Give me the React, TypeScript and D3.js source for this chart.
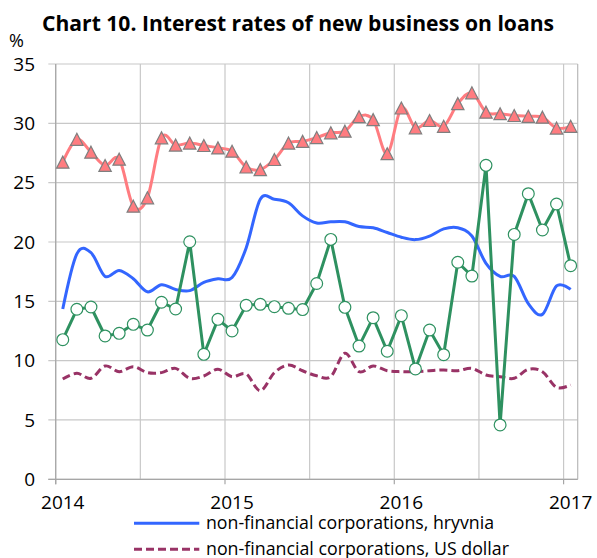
import React from "react";
import * as d3 from "d3";

const months = [
  "2014-01","2014-02","2014-03","2014-04","2014-05","2014-06","2014-07","2014-08","2014-09","2014-10","2014-11","2014-12",
  "2015-01","2015-02","2015-03","2015-04","2015-05","2015-06","2015-07","2015-08","2015-09","2015-10","2015-11","2015-12",
  "2016-01","2016-02","2016-03","2016-04","2016-05","2016-06","2016-07","2016-08","2016-09","2016-10","2016-11","2016-12",
  "2017-01",
];

const gridMonths = ["2014-01", "2014-07", "2015-01", "2015-07", "2016-01", "2016-07", "2017-01"];
const yearTicks = ["2014-01", "2015-01", "2016-01", "2017-01"];
const yearLabels = ["2014", "2015", "2016", "2017"];
const yTicks = [0, 5, 10, 15, 20, 25, 30, 35];

// red triangles series
const seriesTriangles = [
  26.73, 28.65, 27.57, 26.45, 26.98, 23.02, 23.72, 28.78, 28.17, 28.34, 28.13, 27.93,
  27.65, 26.32, 26.1, 26.95, 28.34, 28.48, 28.8, 29.2, 29.34, 30.56, 30.31, 27.44,
  31.29, 29.62, 30.24, 29.75, 31.66, 32.57, 30.94, 30.81, 30.66, 30.59, 30.52, 29.6,
  29.75,
];

// green circles series
const seriesCircles = [
  11.77, 14.33, 14.52, 12.08, 12.3, 13.06, 12.58, 14.92, 14.35, 20.02, 10.53, 13.48,
  12.5, 14.66, 14.75, 14.55, 14.41, 14.3, 16.5, 20.22, 14.49, 11.23, 13.62, 10.79,
  13.79, 9.3, 12.58, 10.5, 18.29, 17.13, 26.46, 4.58, 20.64, 24.07, 21.01, 23.2,
  18.0,
];

// non-financial corporations, hryvnia
const nfcHryvnia = [
  14.35, 19.0, 19.1, 17.1, 17.6, 16.9, 15.8, 16.4, 16.0, 15.9, 16.6, 16.9,
  17.0, 19.5, 23.6, 23.6, 23.3, 22.2, 21.6, 21.7, 21.7, 21.3, 21.2, 20.8,
  20.4, 20.2, 20.5, 21.1, 21.2, 20.5, 18.2, 17.1, 17.1, 14.8, 13.9, 16.3,
  16.0,
];

// non-financial corporations, US dollar
const nfcDollar = [
  8.45, 8.93, 8.51, 9.55, 9.07, 9.49, 8.99, 8.99, 9.35, 8.51, 8.71, 9.27,
  8.65, 8.87, 7.47, 8.99, 9.63, 9.15, 8.72, 8.65, 10.62, 9.07, 9.55, 9.15,
  9.07, 9.07, 9.15, 9.21, 9.15, 9.35, 8.79, 8.65, 8.51, 9.27, 9.07, 7.75,
  7.95,
];

const legendItems = [
  { label: "non-financial corporations, hryvnia", color: "#3366ff", dash: "none" },
  { label: "non-financial corporations, US dollar", color: "#993366", dash: "8,4" },
];

const W = 597;
const H = 558;
const FONT = "'Open Sans', 'DejaVu Sans', sans-serif";

export default function App() {
  const x = d3.scaleBand<string>().domain(months).range([55.7, 577.7]).padding(0);
  const bw = x.bandwidth();
  const cx = (m: string) => (x(m) as number) + bw / 2;
  const y = d3.scaleLinear().domain([0, 35]).range([479.3, 64]);

  const smooth = d3
    .line<number>()
    .x((_, i) => cx(months[i]))
    .y((d) => y(d))
    .curve(d3.curveCatmullRom.alpha(0));
  const straight = d3
    .line<number>()
    .x((_, i) => cx(months[i]))
    .y((d) => y(d));

  const [x0, x1] = x.range();
  const [y0, y1] = y.range();

  const tri = (px: number, py: number) => {
    const w = 6.2;
    const h = 6;
    return `M${px},${py - h}L${px + w},${py + h}L${px - w},${py + h}Z`;
  };

  return (
    <svg
      width={W}
      height={H}
      style={{ position: "absolute", left: 0, top: 0, background: "#fff" }}
      fontFamily={FONT}
    >
      <rect x={0} y={0} width={W} height={H} fill="#fff" />
      <text
        x={42}
        y={31}
        fontSize={21}
        fontWeight="bold"
        fill="#000"
        textLength={512}
        lengthAdjust="spacingAndGlyphs"
      >
        Chart 10. Interest rates of new business on loans
      </text>
      <text x={9} y={47} fontSize={18} fill="#000">%</text>

      {/* horizontal gridlines + y ticks */}
      {yTicks.map((t) => (
        <g key={"y" + t}>
          <line x1={48.3} x2={x1} y1={y(t)} y2={y(t)} stroke="#c8c8c8" strokeWidth={1.2} />
          <text x={35} y={y(t)} dy="0.35em" textAnchor="end" fontSize={19} fill="#000">
            {t}
          </text>
        </g>
      ))}
      {/* vertical gridlines */}
      {gridMonths.map((m) => (
        <line key={"g" + m} x1={x(m)} x2={x(m)} y1={y1} y2={y0} stroke="#c8c8c8" strokeWidth={1.2} />
      ))}
      {/* right border */}
      <line x1={x1} x2={x1} y1={y1} y2={y0} stroke="#b8b8b8" strokeWidth={1.2} />
      {/* axes */}
      <line x1={x0} x2={x0} y1={y1} y2={y0 + 5} stroke="#a6a6a6" strokeWidth={1.2} />
      <line x1={48.3} x2={x1} y1={y0} y2={y0} stroke="#a6a6a6" strokeWidth={1.2} />
      {yearTicks.map((m, i) => (
        <g key={"yt" + m}>
          <line x1={x(m)} x2={x(m)} y1={y0} y2={y0 + 5} stroke="#a6a6a6" strokeWidth={1.2} />
          <text x={cx(m)} y={508.5} textAnchor="middle" fontSize={19} fill="#000">
            {yearLabels[i]}
          </text>
        </g>
      ))}

      {/* series */}
      <path d={smooth(nfcDollar) || ""} fill="none" stroke="#993366" strokeWidth={3} strokeDasharray="8,4" />
      <path d={smooth(nfcHryvnia) || ""} fill="none" stroke="#3366ff" strokeWidth={3} />
      <path d={smooth(seriesTriangles) || ""} fill="none" stroke="#ff7c80" strokeWidth={3} />
      {seriesTriangles.map((v, i) => (
        <path key={"t" + i} d={tri(cx(months[i]), y(v))} fill="#ff7c80" stroke="#7f7f7f" strokeWidth={1.2} />
      ))}
      <path d={straight(seriesCircles) || ""} fill="none" stroke="#2e9160" strokeWidth={3} />
      {seriesCircles.map((v, i) => (
        <circle key={"c" + i} cx={cx(months[i])} cy={y(v)} r={5.9} fill="#fff" stroke="#2e9160" strokeWidth={1.2} />
      ))}

      {/* legend */}
      {legendItems.map((it, i) => (
        <g key={"l" + i}>
          <line
            x1={134}
            x2={199.3}
            y1={523.3 + i * 26}
            y2={523.3 + i * 26}
            stroke={it.color}
            strokeWidth={3}
            strokeDasharray={it.dash}
          />
          <text
            x={206}
            y={529.3 + i * 26}
            fontSize={17.5}
            fill="#000"
            textLength={i === 0 ? 288 : 303}
            lengthAdjust="spacingAndGlyphs"
          >
            {it.label}
          </text>
        </g>
      ))}
    </svg>
  );
}
